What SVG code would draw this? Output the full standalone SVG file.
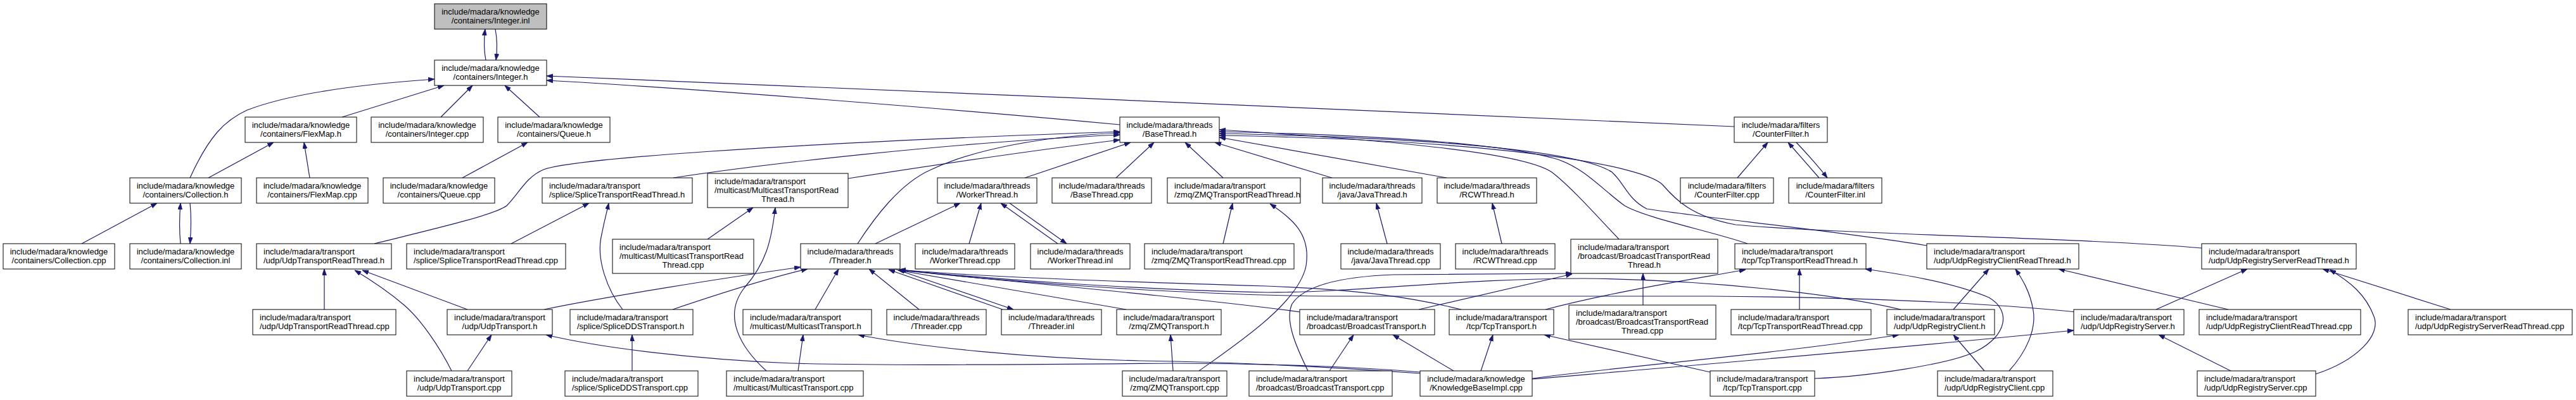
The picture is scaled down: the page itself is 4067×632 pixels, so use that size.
<svg xmlns="http://www.w3.org/2000/svg" width="4067" height="632" viewBox="0 0 4067 632">
<defs>
<marker id="ah" markerUnits="userSpaceOnUse" markerWidth="11" markerHeight="8" refX="10" refY="3.5" orient="auto"><path d="M0,0 L10,3.5 L0,7 z" fill="#191970" stroke="#191970" stroke-width="0.8"/></marker>
<style>
.node rect{fill:#ffffff;stroke:#000000;stroke-width:1}
.node.root rect{fill:#bfbfbf}
.node text{font-family:"Liberation Sans",Arial,Helvetica,sans-serif;font-size:13px;fill:#000000}
.c{text-anchor:middle}
.l{text-anchor:start}
#edges path{fill:none;stroke:#191970;stroke-width:1.2;marker-end:url(#ah)}
</style>
</defs>
<rect x="0" y="0" width="4067" height="632" fill="#ffffff"/>
<g id="edges">
<path d="M767,95 C764,80 764,62 766,46"/>
<path d="M782,46 C785,62 785,80 783,95"/>
<path d="M300,281 C330,215 355,190 390,174 C470,143 600,131 686,125"/>
<path d="M540,185 L701,135"/>
<path d="M696,185 L746,135"/>
<path d="M852,185 L797,135"/>
<path d="M1768,197 C1500,172 1100,140 863,127"/>
<path d="M2738,200 C2300,180 1400,142 863,120"/>
<path d="M329,281 L432,225"/>
<path d="M489,281 L480,225"/>
<path d="M129,385 L248,321"/>
<path d="M285,385 C283,365 283,345 285,321"/>
<path d="M300,321 C302,340 302,360 300,385"/>
<path d="M730,281 L833,225"/>
<path d="M591,385 C680,363 780,340 800,325 C820,305 830,280 858,268 C900,252 1200,228 1768,208"/>
<path d="M1063,281 C1200,260 1500,225 1768,213"/>
<path d="M1339,282 C1480,260 1650,235 1768,221"/>
<path d="M1354,385 C1380,345 1420,290 1470,268 C1540,235 1650,215 1768,210"/>
<path d="M1618,281 L1785,225"/>
<path d="M1762,281 L1822,225"/>
<path d="M1931,281 L1871,225"/>
<path d="M2103,281 L1918,225"/>
<path d="M2284,281 L1925,217"/>
<path d="M2556,378 C2520,340 2480,295 2450,272 C2410,245 2250,225 1925,205"/>
<path d="M2759,385 C2700,365 2600,345 2565,325 C2530,300 2505,268 2460,252 C2380,228 2200,214 1925,208"/>
<path d="M3042,388 C2900,365 2700,345 2600,330 C2570,315 2565,290 2545,272 C2500,242 2300,218 1925,211"/>
<path d="M3476,392 C3300,376 2900,370 2740,355 C2670,342 2645,315 2625,292 C2600,265 2400,222 1925,214"/>
<path d="M807,385 L930,321"/>
<path d="M983,489 C960,460 940,410 950,370 C955,345 958,335 961,321"/>
<path d="M1117,378 L1189,328"/>
<path d="M1210,586 C1170,550 1140,500 1175,455 C1210,415 1218,380 1224,328"/>
<path d="M1382,385 L1516,321"/>
<path d="M1530,385 L1549,321"/>
<path d="M1670,385 L1580,321"/>
<path d="M1594,321 L1684,385"/>
<path d="M1931,385 L1946,321"/>
<path d="M1893,586 C1950,545 2050,480 2062,420 C2070,370 2040,345 2005,322"/>
<path d="M2190,385 L2173,321"/>
<path d="M2371,385 L2356,321"/>
<path d="M2743,281 L2791,225"/>
<path d="M2872,281 L2823,225"/>
<path d="M2836,225 C2855,245 2870,262 2885,281"/>
<path d="M738,489 L572,427"/>
<path d="M713,586 C695,550 665,505 638,482 C610,458 585,442 560,427"/>
<path d="M512,489 L512,425"/>
<path d="M859,489 C950,470 1150,438 1264,422"/>
<path d="M1062,489 C1130,466 1210,440 1275,425"/>
<path d="M1287,489 L1324,425"/>
<path d="M1451,489 L1372,425"/>
<path d="M1583,489 L1403,426"/>
<path d="M1413,425 L1600,489"/>
<path d="M1778,489 L1418,427"/>
<path d="M2053,493 C1900,472 1600,445 1419,427"/>
<path d="M2307,489 C2230,470 2150,458 2000,452 C1800,446 1550,438 1420,426"/>
<path d="M3001,489 C2900,465 2700,442 2500,440 C2300,440 2150,462 2000,462 C1800,458 1550,440 1420,426"/>
<path d="M3278,493 C3150,480 2950,470 2700,468 L2100,468 C1850,466 1550,442 1420,426"/>
<path d="M998,586 L998,529"/>
<path d="M1260,586 L1268,529"/>
<path d="M1852,586 L1848,529"/>
<path d="M738,586 L776,529"/>
<path d="M2099,586 L2137,529"/>
<path d="M2295,586 L2199,529"/>
<path d="M2338,586 L2357,529"/>
<path d="M2700,588 L2438,529"/>
<path d="M2242,588 C2150,580 2000,574 1850,574 C1600,576 1400,578 1250,574 C1100,568 950,550 862,529"/>
<path d="M2242,590 C2100,580 1950,572 1800,570 C1620,566 1450,548 1355,529"/>
<path d="M2419,598 C2550,580 2800,560 2998,529"/>
<path d="M2419,599 C2700,575 3000,550 3274,522"/>
<path d="M2065,586 C2045,545 2028,505 2040,480 C2060,450 2120,437 2200,434 L2482,432"/>
<path d="M2240,489 L2482,433"/>
<path d="M2594,482 L2594,432"/>
<path d="M2440,489 C2550,460 2680,440 2756,426"/>
<path d="M2841,489 L2841,425"/>
<path d="M2865,598 C2950,595 3080,575 3120,555 C3170,530 3175,490 3140,470 C3080,445 3000,433 2945,425"/>
<path d="M3084,489 L3140,425"/>
<path d="M3172,586 C3200,555 3215,520 3210,490 C3205,460 3192,440 3182,425"/>
<path d="M3518,489 L3250,425"/>
<path d="M3133,586 L3084,529"/>
<path d="M3404,489 L3548,425"/>
<path d="M3656,591 C3720,570 3760,530 3748,500 C3735,465 3710,445 3678,426"/>
<path d="M3869,489 L3667,425"/>
<path d="M3522,586 L3408,529"/>
</g>
<g id="n_integer_inl" class="node root"><rect x="686" y="6" width="177" height="40"/><text class="c"><tspan x="774.5" y="23">include/madara/knowledge</tspan><tspan x="774.5" y="37">/containers/Integer.inl</tspan></text></g>
<g id="n_integer_h" class="node"><rect x="686" y="95" width="177" height="40"/><text class="c"><tspan x="774.5" y="112">include/madara/knowledge</tspan><tspan x="774.5" y="126">/containers/Integer.h</tspan></text></g>
<g id="n_flexmap_h" class="node"><rect x="387" y="185" width="176" height="40"/><text class="c"><tspan x="475" y="202">include/madara/knowledge</tspan><tspan x="475" y="216">/containers/FlexMap.h</tspan></text></g>
<g id="n_integer_cpp" class="node"><rect x="586" y="185" width="177" height="40"/><text class="c"><tspan x="674.5" y="202">include/madara/knowledge</tspan><tspan x="674.5" y="216">/containers/Integer.cpp</tspan></text></g>
<g id="n_queue_h" class="node"><rect x="786" y="185" width="177" height="40"/><text class="c"><tspan x="874.5" y="202">include/madara/knowledge</tspan><tspan x="874.5" y="216">/containers/Queue.h</tspan></text></g>
<g id="n_basethread_h" class="node"><rect x="1768" y="185" width="157" height="40"/><text class="c"><tspan x="1846.5" y="202">include/madara/threads</tspan><tspan x="1846.5" y="216">/BaseThread.h</tspan></text></g>
<g id="n_counterfilter_h" class="node"><rect x="2738" y="185" width="147" height="40"/><text class="c"><tspan x="2811.5" y="202">include/madara/filters</tspan><tspan x="2811.5" y="216">/CounterFilter.h</tspan></text></g>
<g id="n_collection_h" class="node"><rect x="205" y="281" width="176" height="40"/><text class="c"><tspan x="293" y="298">include/madara/knowledge</tspan><tspan x="293" y="312">/containers/Collection.h</tspan></text></g>
<g id="n_flexmap_cpp" class="node"><rect x="405" y="281" width="176" height="40"/><text class="c"><tspan x="493" y="298">include/madara/knowledge</tspan><tspan x="493" y="312">/containers/FlexMap.cpp</tspan></text></g>
<g id="n_queue_cpp" class="node"><rect x="605" y="281" width="176" height="40"/><text class="c"><tspan x="693" y="298">include/madara/knowledge</tspan><tspan x="693" y="312">/containers/Queue.cpp</tspan></text></g>
<g id="n_splicetrt_h" class="node"><rect x="856" y="281" width="237" height="40"/><text class="l"><tspan x="867" y="298">include/madara/transport</tspan><tspan x="867" y="312">/splice/SpliceTransportReadThread.h</tspan></text></g>
<g id="n_multicasttrt_h" class="node"><rect x="1117" y="274" width="222" height="54"/><text class="l"><tspan x="1128" y="291">include/madara/transport</tspan><tspan x="1128" y="305">/multicast/MulticastTransportRead</tspan></text><text class="c" x="1228" y="319">Thread.h</text></g>
<g id="n_workerthread_h" class="node"><rect x="1480" y="281" width="157" height="40"/><text class="c"><tspan x="1558.5" y="298">include/madara/threads</tspan><tspan x="1558.5" y="312">/WorkerThread.h</tspan></text></g>
<g id="n_basethread_cpp" class="node"><rect x="1661" y="281" width="157" height="40"/><text class="c"><tspan x="1739.5" y="298">include/madara/threads</tspan><tspan x="1739.5" y="312">/BaseThread.cpp</tspan></text></g>
<g id="n_zmqtrt_h" class="node"><rect x="1843" y="281" width="210" height="40"/><text class="l"><tspan x="1854" y="298">include/madara/transport</tspan><tspan x="1854" y="312">/zmq/ZMQTransportReadThread.h</tspan></text></g>
<g id="n_javathread_h" class="node"><rect x="2088" y="281" width="157" height="40"/><text class="c"><tspan x="2166.5" y="298">include/madara/threads</tspan><tspan x="2166.5" y="312">/java/JavaThread.h</tspan></text></g>
<g id="n_rcwthread_h" class="node"><rect x="2269" y="281" width="157" height="40"/><text class="c"><tspan x="2347.5" y="298">include/madara/threads</tspan><tspan x="2347.5" y="312">/RCWThread.h</tspan></text></g>
<g id="n_counterfilter_cpp" class="node"><rect x="2653" y="281" width="147" height="40"/><text class="c"><tspan x="2726.5" y="298">include/madara/filters</tspan><tspan x="2726.5" y="312">/CounterFilter.cpp</tspan></text></g>
<g id="n_counterfilter_inl" class="node"><rect x="2824" y="281" width="147" height="40"/><text class="c"><tspan x="2897.5" y="298">include/madara/filters</tspan><tspan x="2897.5" y="312">/CounterFilter.inl</tspan></text></g>
<g id="n_collection_cpp" class="node"><rect x="5" y="385" width="176" height="40"/><text class="c"><tspan x="93" y="402">include/madara/knowledge</tspan><tspan x="93" y="416">/containers/Collection.cpp</tspan></text></g>
<g id="n_collection_inl" class="node"><rect x="205" y="385" width="176" height="40"/><text class="c"><tspan x="293" y="402">include/madara/knowledge</tspan><tspan x="293" y="416">/containers/Collection.inl</tspan></text></g>
<g id="n_udptrt_h" class="node"><rect x="405" y="385" width="213" height="40"/><text class="l"><tspan x="416" y="402">include/madara/transport</tspan><tspan x="416" y="416">/udp/UdpTransportReadThread.h</tspan></text></g>
<g id="n_splicetrt_cpp" class="node"><rect x="642" y="385" width="251" height="40"/><text class="l"><tspan x="653" y="402">include/madara/transport</tspan><tspan x="653" y="416">/splice/SpliceTransportReadThread.cpp</tspan></text></g>
<g id="n_multicasttrt_cpp" class="node"><rect x="967" y="378" width="223" height="54"/><text class="l"><tspan x="978" y="395">include/madara/transport</tspan><tspan x="978" y="409">/multicast/MulticastTransportRead</tspan></text><text class="c" x="1078.5" y="423">Thread.cpp</text></g>
<g id="n_threader_h" class="node"><rect x="1264" y="385" width="157" height="40"/><text class="c"><tspan x="1342.5" y="402">include/madara/threads</tspan><tspan x="1342.5" y="416">/Threader.h</tspan></text></g>
<g id="n_workerthread_cpp" class="node"><rect x="1445" y="385" width="157" height="40"/><text class="c"><tspan x="1523.5" y="402">include/madara/threads</tspan><tspan x="1523.5" y="416">/WorkerThread.cpp</tspan></text></g>
<g id="n_workerthread_inl" class="node"><rect x="1627" y="385" width="157" height="40"/><text class="c"><tspan x="1705.5" y="402">include/madara/threads</tspan><tspan x="1705.5" y="416">/WorkerThread.inl</tspan></text></g>
<g id="n_zmqtrt_cpp" class="node"><rect x="1807" y="385" width="236" height="40"/><text class="l"><tspan x="1818" y="402">include/madara/transport</tspan><tspan x="1818" y="416">/zmq/ZMQTransportReadThread.cpp</tspan></text></g>
<g id="n_javathread_cpp" class="node"><rect x="2117" y="385" width="157" height="40"/><text class="c"><tspan x="2195.5" y="402">include/madara/threads</tspan><tspan x="2195.5" y="416">/java/JavaThread.cpp</tspan></text></g>
<g id="n_rcwthread_cpp" class="node"><rect x="2298" y="385" width="157" height="40"/><text class="c"><tspan x="2376.5" y="402">include/madara/threads</tspan><tspan x="2376.5" y="416">/RCWThread.cpp</tspan></text></g>
<g id="n_broadcasttrt_h" class="node"><rect x="2480" y="378" width="232" height="54"/><text class="l"><tspan x="2491" y="395">include/madara/transport</tspan><tspan x="2491" y="409">/broadcast/BroadcastTransportRead</tspan></text><text class="c" x="2596" y="423">Thread.h</text></g>
<g id="n_tcptrt_h" class="node"><rect x="2739" y="385" width="207" height="40"/><text class="l"><tspan x="2750" y="402">include/madara/transport</tspan><tspan x="2750" y="416">/tcp/TcpTransportReadThread.h</tspan></text></g>
<g id="n_udpregclientrt_h" class="node"><rect x="3042" y="385" width="240" height="40"/><text class="l"><tspan x="3053" y="402">include/madara/transport</tspan><tspan x="3053" y="416">/udp/UdpRegistryClientReadThread.h</tspan></text></g>
<g id="n_udpregserverrt_h" class="node"><rect x="3476" y="385" width="244" height="40"/><text class="l"><tspan x="3487" y="402">include/madara/transport</tspan><tspan x="3487" y="416">/udp/UdpRegistryServerReadThread.h</tspan></text></g>
<g id="n_udptrt_cpp" class="node"><rect x="399" y="489" width="226" height="40"/><text class="l"><tspan x="410" y="506">include/madara/transport</tspan><tspan x="410" y="520">/udp/UdpTransportReadThread.cpp</tspan></text></g>
<g id="n_udptransport_h" class="node"><rect x="706" y="489" width="166" height="40"/><text class="c"><tspan x="789" y="506">include/madara/transport</tspan><tspan x="789" y="520">/udp/UdpTransport.h</tspan></text></g>
<g id="n_splicedds_h" class="node"><rect x="900" y="489" width="194" height="40"/><text class="l"><tspan x="911" y="506">include/madara/transport</tspan><tspan x="911" y="520">/splice/SpliceDDSTransport.h</tspan></text></g>
<g id="n_multicasttransport_h" class="node"><rect x="1173" y="489" width="203" height="40"/><text class="l"><tspan x="1184" y="506">include/madara/transport</tspan><tspan x="1184" y="520">/multicast/MulticastTransport.h</tspan></text></g>
<g id="n_threader_cpp" class="node"><rect x="1400" y="489" width="157" height="40"/><text class="c"><tspan x="1478.5" y="506">include/madara/threads</tspan><tspan x="1478.5" y="520">/Threader.cpp</tspan></text></g>
<g id="n_threader_inl" class="node"><rect x="1581" y="489" width="158" height="40"/><text class="c"><tspan x="1660" y="506">include/madara/threads</tspan><tspan x="1660" y="520">/Threader.inl</tspan></text></g>
<g id="n_zmqtransport_h" class="node"><rect x="1763" y="489" width="165" height="40"/><text class="c"><tspan x="1845.5" y="506">include/madara/transport</tspan><tspan x="1845.5" y="520">/zmq/ZMQTransport.h</tspan></text></g>
<g id="n_broadcasttransport_h" class="node"><rect x="2052" y="489" width="213" height="40"/><text class="l"><tspan x="2063" y="506">include/madara/transport</tspan><tspan x="2063" y="520">/broadcast/BroadcastTransport.h</tspan></text></g>
<g id="n_tcptransport_h" class="node"><rect x="2288" y="489" width="165" height="40"/><text class="c"><tspan x="2370.5" y="506">include/madara/transport</tspan><tspan x="2370.5" y="520">/tcp/TcpTransport.h</tspan></text></g>
<g id="n_broadcasttrt_cpp" class="node"><rect x="2477" y="482" width="232" height="54"/><text class="l"><tspan x="2488" y="499">include/madara/transport</tspan><tspan x="2488" y="513">/broadcast/BroadcastTransportRead</tspan></text><text class="c" x="2593" y="527">Thread.cpp</text></g>
<g id="n_tcptrt_cpp" class="node"><rect x="2733" y="489" width="221" height="40"/><text class="l"><tspan x="2744" y="506">include/madara/transport</tspan><tspan x="2744" y="520">/tcp/TcpTransportReadThread.cpp</tspan></text></g>
<g id="n_udpregclient_h" class="node"><rect x="2979" y="489" width="170" height="40"/><text class="l"><tspan x="2990" y="506">include/madara/transport</tspan><tspan x="2990" y="520">/udp/UdpRegistryClient.h</tspan></text></g>
<g id="n_udpregserver_h" class="node"><rect x="3274" y="489" width="174" height="40"/><text class="l"><tspan x="3285" y="506">include/madara/transport</tspan><tspan x="3285" y="520">/udp/UdpRegistryServer.h</tspan></text></g>
<g id="n_udpregclientrt_cpp" class="node"><rect x="3472" y="489" width="255" height="40"/><text class="l"><tspan x="3483" y="506">include/madara/transport</tspan><tspan x="3483" y="520">/udp/UdpRegistryClientReadThread.cpp</tspan></text></g>
<g id="n_udpregserverrt_cpp" class="node"><rect x="3802" y="489" width="259" height="40"/><text class="l"><tspan x="3813" y="506">include/madara/transport</tspan><tspan x="3813" y="520">/udp/UdpRegistryServerReadThread.cpp</tspan></text></g>
<g id="n_udptransport_cpp" class="node"><rect x="642" y="586" width="166" height="40"/><text class="c"><tspan x="725" y="603">include/madara/transport</tspan><tspan x="725" y="617">/udp/UdpTransport.cpp</tspan></text></g>
<g id="n_splicedds_cpp" class="node"><rect x="892" y="586" width="210" height="40"/><text class="l"><tspan x="903" y="603">include/madara/transport</tspan><tspan x="903" y="617">/splice/SpliceDDSTransport.cpp</tspan></text></g>
<g id="n_multicasttransport_cpp" class="node"><rect x="1147" y="586" width="216" height="40"/><text class="l"><tspan x="1158" y="603">include/madara/transport</tspan><tspan x="1158" y="617">/multicast/MulticastTransport.cpp</tspan></text></g>
<g id="n_zmqtransport_cpp" class="node"><rect x="1772" y="586" width="165" height="40"/><text class="c"><tspan x="1854.5" y="603">include/madara/transport</tspan><tspan x="1854.5" y="617">/zmq/ZMQTransport.cpp</tspan></text></g>
<g id="n_broadcasttransport_cpp" class="node"><rect x="1972" y="586" width="226" height="40"/><text class="l"><tspan x="1983" y="603">include/madara/transport</tspan><tspan x="1983" y="617">/broadcast/BroadcastTransport.cpp</tspan></text></g>
<g id="n_kbimpl_cpp" class="node"><rect x="2242" y="586" width="177" height="40"/><text class="c"><tspan x="2330.5" y="603">include/madara/knowledge</tspan><tspan x="2330.5" y="617">/KnowledgeBaseImpl.cpp</tspan></text></g>
<g id="n_tcptransport_cpp" class="node"><rect x="2700" y="586" width="165" height="40"/><text class="c"><tspan x="2782.5" y="603">include/madara/transport</tspan><tspan x="2782.5" y="617">/tcp/TcpTransport.cpp</tspan></text></g>
<g id="n_udpregclient_cpp" class="node"><rect x="3059" y="586" width="182" height="40"/><text class="l"><tspan x="3070" y="603">include/madara/transport</tspan><tspan x="3070" y="617">/udp/UdpRegistryClient.cpp</tspan></text></g>
<g id="n_udpregserver_cpp" class="node"><rect x="3469" y="586" width="187" height="40"/><text class="l"><tspan x="3480" y="603">include/madara/transport</tspan><tspan x="3480" y="617">/udp/UdpRegistryServer.cpp</tspan></text></g>
</svg>
